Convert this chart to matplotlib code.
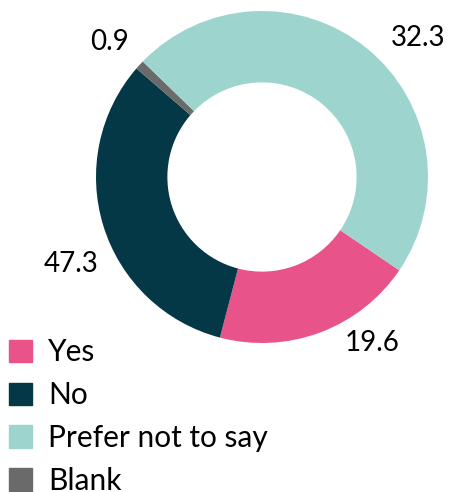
import matplotlib.pyplot as plt

plt.rcParams['font.family'] = ['Lato', 'DejaVu Sans']

categories = ["Yes", "No", "Prefer not to say", "Blank"]
colors = ["#E8538A", "#043846", "#9DD5CE", "#6A6A6A"]
# shares as drawn in the ring, and the numbers printed beside it
drawn = [19.6, 32.3, 47.3, 0.9]
printed = ["19.6", "47.3", "32.3", "0.9"]
# clockwise drawing order of the ring
order = [0, 1, 3, 2]

fig = plt.figure(figsize=(4.55, 4.92), dpi=100)
ax = fig.add_axes([96/455, 149/492, 332/455, 332/492])

sizes = [drawn[i] for i in order]
cols = [colors[i] for i in order]
wedges, _ = ax.pie(sizes, colors=cols, startangle=-34.2, counterclock=False,
                   radius=1.0, wedgeprops=dict(width=0.43, linewidth=0))
ax.set_xlim(-1, 1)
ax.set_ylim(-1, 1)
ax.set_aspect('equal')
ax.axis('off')

# where each printed number sits (data units of the ring)
label_xy = [(0.663, -1.0), (-1.15, -0.524), (0.94, 0.835), (-0.916, 0.813)]
for i in range(len(categories)):
    ax.text(label_xy[i][0], label_xy[i][1], printed[i], ha='center', va='center',
            fontsize=20, color='black', clip_on=False)

handles = [plt.Rectangle((0, 0), 1, 1, color=c) for c in colors]
fig.legend(handles, categories, loc='upper left', bbox_to_anchor=(0.0, 0.331),
           frameon=False, fontsize=21.5, handlelength=0.77, handleheight=0.77,
           handletextpad=0.55, labelspacing=0.5, borderaxespad=0, borderpad=0.3)

fig.savefig("out.png", dpi=100)
